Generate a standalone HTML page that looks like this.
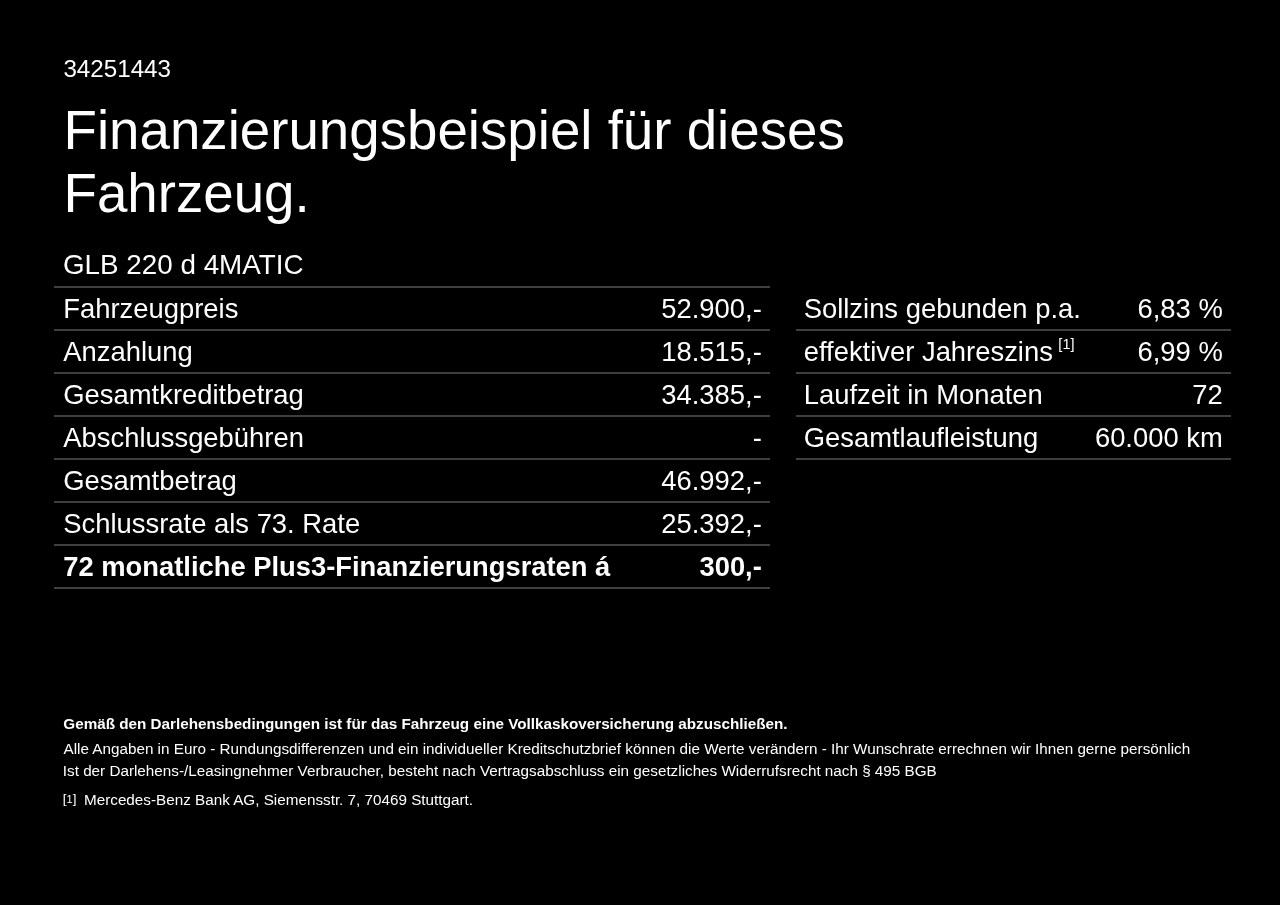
<!DOCTYPE html>
<html lang="de">
<head>
<meta charset="utf-8">
<title>Finanzierungsbeispiel</title>
<style>
html,body{margin:0;padding:0;background:#000;}
body{width:1280px;height:905px;position:relative;overflow:hidden;color:#fff;
  font-family:"Liberation Sans",sans-serif;}
.abs{position:absolute;white-space:nowrap;line-height:1;margin:0;font-weight:normal;}
#id{left:63.4px;top:57px;font-size:24.2px;}
#h1{left:63.5px;top:98.5px;font-size:54.7px;line-height:63px;}
#model{left:63px;top:251.3px;font-size:27.8px;}
.tbl{position:absolute;font-size:27.4px;}
.row{display:flex;justify-content:space-between;align-items:center;height:43px;box-sizing:border-box;
  border-bottom:2px solid #3f3f3f;line-height:1;white-space:nowrap;}
.row.b{font-weight:bold;font-size:27.35px;}
#t1{left:54px;top:286px;width:716px;border-top:2px solid #3f3f3f;}
#t1 .row{padding-left:9.3px;padding-right:8.2px;}
#t2{left:796px;top:288px;width:435px;}
#t2 .row{padding-left:7.7px;padding-right:8.2px;}
sup{font-size:14.5px;line-height:0;vertical-align:baseline;position:relative;top:-11.8px;margin-left:5.5px;}
.fn{font-size:15.25px;}
</style>
</head>
<body>
<div class="abs" id="id">34251443</div>
<h1 class="abs" id="h1">Finanzierungsbeispiel für dieses<br>Fahrzeug.</h1>
<div class="abs" id="model">GLB 220 d 4MATIC</div>
<div class="tbl" id="t1">
<div class="row"><span>Fahrzeugpreis</span><span>52.900,-</span></div>
<div class="row"><span>Anzahlung</span><span>18.515,-</span></div>
<div class="row"><span>Gesamtkreditbetrag</span><span>34.385,-</span></div>
<div class="row"><span>Abschlussgebühren</span><span>-</span></div>
<div class="row"><span>Gesamtbetrag</span><span>46.992,-</span></div>
<div class="row"><span>Schlussrate als 73. Rate</span><span>25.392,-</span></div>
<div class="row b"><span>72 monatliche Plus3-Finanzierungsraten á</span><span>300,-</span></div>
</div>
<div class="tbl" id="t2">
<div class="row"><span>Sollzins gebunden p.a.</span><span>6,83 %</span></div>
<div class="row"><span>effektiver Jahreszins<sup>[1]</sup></span><span>6,99 %</span></div>
<div class="row"><span>Laufzeit in Monaten</span><span>72</span></div>
<div class="row"><span>Gesamtlaufleistung</span><span>60.000 km</span></div>
</div>
<div class="abs fn" id="f1" style="left:63.3px;top:715.9px;font-weight:bold;">Gemäß den Darlehensbedingungen ist für das Fahrzeug eine Vollkaskoversicherung abzuschließen.</div>
<div class="abs fn" id="f2" style="left:63.5px;top:740.6px;">Alle Angaben in Euro - Rundungsdifferenzen und ein individueller Kreditschutzbrief können die Werte verändern - Ihr Wunschrate errechnen wir Ihnen gerne persönlich</div>
<div class="abs fn" id="f3" style="left:62.8px;top:762.7px;">Ist der Darlehens-/Leasingnehmer Verbraucher, besteht nach Vertragsabschluss ein gesetzliches Widerrufsrecht nach § 495 BGB</div>
<div class="abs" id="f4m" style="left:62.8px;top:792.3px;font-size:13.4px;">[<span style="font-size:11px">1</span>]</div>
<div class="abs fn" id="f4" style="left:84px;top:792.1px;">Mercedes-Benz Bank AG, Siemensstr. 7, 70469 Stuttgart.</div>
</body>
</html>
